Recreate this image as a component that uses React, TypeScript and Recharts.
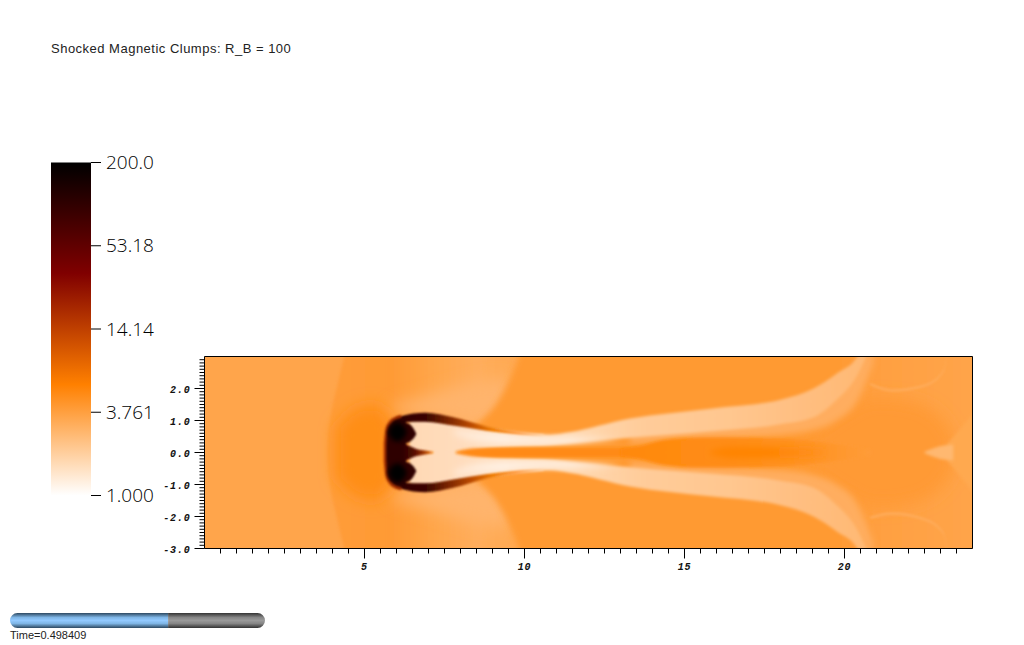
import { Area, Bar, BarChart, ComposedChart, CartesianGrid, ReferenceArea, XAxis, YAxis } from 'recharts';

const title = 'Shocked Magnetic Clumps: R_B = 100';
const timeLabel = 'Time=0.498409';

const xTicks = [0.5, 1, 1.5, 2, 2.5, 3, 3.5, 4, 4.5, 5, 5.5, 6, 6.5, 7, 7.5, 8, 8.5, 9, 9.5, 10, 10.5, 11, 11.5, 12, 12.5, 13, 13.5, 14, 14.5, 15, 15.5, 16, 16.5, 17, 17.5, 18, 18.5, 19, 19.5, 20, 20.5, 21, 21.5, 22, 22.5, 23, 23.5];
const yTicks = [-3, -2.9, -2.8, -2.7, -2.6, -2.5, -2.4, -2.3, -2.2, -2.1, -2, -1.9, -1.8, -1.7, -1.6, -1.5, -1.4, -1.3, -1.2, -1.1, -1, -0.9, -0.8, -0.7, -0.6, -0.5, -0.4, -0.3, -0.2, -0.1, 0, 0.1, 0.2, 0.3, 0.4, 0.5, 0.6, 0.7, 0.8, 0.9, 1, 1.1, 1.2, 1.3, 1.4, 1.5, 1.6, 1.7, 1.8, 1.9, 2, 2.1, 2.2, 2.3, 2.4, 2.5, 2.6, 2.7, 2.8, 2.9];
const xLabels = [5, 10, 15, 20];
const yLabels = [-3, -2, -1, 0, 1, 2];

const colorbarTicks = [1, 3.761, 14.14, 53.18, 200];
const colorbarLabels = ['1.000', '3.761', '14.14', '53.18', '200.0'];
const colorbarRange = [1, 200];

const timeElapsed = 0.62;
const timeRemaining = 0.38;

// each feature of the density field: x positions, upper edge, lower edge
const bowX = [3.84, 3.87, 3.93, 4.04, 4.16, 4.37, 4.55, 10.3];
const bowHi = [0.1, 0.6, 1.1, 1.65, 2.15, 3.0, 3.5, 3.5];
const bowLo = [-0.1, -0.6, -1.1, -1.65, -2.15, -3.0, -3.5, -3.5];

const preHeadX = [4.1, 4.6, 5.2, 5.6, 5.9];
const preHeadHi = [0.8, 1.3, 1.5, 1.4, 0.9];
const preHeadLo = [-0.8, -1.3, -1.5, -1.4, -0.9];

const haloUpX = [5.8, 7.0, 8.0, 9.0, 9.6];
const haloUpHi = [1.45, 1.8, 2.1, 2.3, 2.3];
const haloUpLo = [1.3, 1.1, 0.9, 0.8, 1.0];
const haloDownHi = [-1.3, -1.1, -0.9, -0.8, -1.0];
const haloDownLo = [-1.45, -1.8, -2.1, -2.3, -2.3];

const ambientX = [8.3, 8.7, 9.1, 9.45, 9.75, 9.87, 10, 24.4];
const ambientHi = [0.75, 1.05, 1.5, 2.1, 2.8, 3.1, 3.5, 3.5];
const ambientLo = [-0.75, -1.05, -1.5, -2.1, -2.8, -3.1, -3.5, -3.5];

const rearX = [19, 20, 21, 22, 23, 23.4];
const rearHi = [0.6, 1.3, 1.7, 1.6, 1.1, 0.5];
const rearLo = [-0.6, -1.3, -1.7, -1.6, -1.1, -0.5];

const wedgeX = [23.2, 23.5, 23.8, 24.3];
const wedgeHi = [0.25, 0.6, 0.95, 1.6];
const wedgeLo = [-0.25, -0.6, -0.95, -1.6];

const spotX = [22.5, 22.8, 23.1, 23.4];
const spotHi = [0.02, 0.14, 0.22, 0.24];
const spotLo = [-0.02, -0.14, -0.22, -0.24];

const arcUpX = [20.8, 21.5, 22.5, 23.1, 23.2];
const arcUpHi = [2.18, 1.98, 2.13, 2.6, 3.1];
const arcUpLo = [2.1, 1.9, 2.05, 2.52, 3.0];
const arcDownX = [20.8, 21.5, 22.5, 23.1, 23.2];
const arcDownHi = [-2.0, -1.87, -2.05, -2.5, -2.95];
const arcDownLo = [-2.08, -1.95, -2.13, -2.58, -3.05];

const glowX = [13.3, 15.8, 18, 19.03, 19.76, 20.4, 20.9];
const glowUpHi = [0.6, 0.8, 1.1, 1.35, 1.9, 2.6, 3.5];
const glowUpLo = [0.3, 0.45, 0.55, 0.7, 1.0, 1.6, 2.8];
const glowDownHi = [-0.3, -0.45, -0.55, -0.7, -1.0, -1.6, -2.8];
const glowDownLo = [-0.6, -0.8, -1.1, -1.35, -1.9, -2.6, -3.5];

const wingX = [6.4, 7.0, 7.8, 8.8, 9.87, 10.8, 11.4, 13.3, 15.8, 18, 19.03, 19.76, 20.4, 20.65, 20.9];
const wingUpHi = [1.0, 1.02, 0.9, 0.75, 0.6, 0.55, 0.63, 1.06, 1.37, 1.65, 2.0, 2.47, 3.0, 3.5, 3.5];
const wingUpLo = [-0.1, -0.1, -0.1, 0.12, 0.18, 0.22, 0.28, 0.46, 0.66, 0.88, 1.1, 1.65, 2.4, 2.9, 3.5];
const wingDownHi = [0.1, 0.1, 0.1, -0.12, -0.18, -0.22, -0.28, -0.46, -0.66, -0.88, -1.1, -1.65, -2.4, -2.9, -3.5];
const wingDownLo = [-1.0, -1.02, -0.9, -0.75, -0.6, -0.55, -0.63, -1.06, -1.37, -1.65, -2.0, -2.47, -3.0, -3.5, -3.5];

const streakX = [7.8, 8.3, 9, 10, 11, 12, 13];
const streakUpHi = [0.74, 0.68, 0.62, 0.5, 0.47, 0.5, 0.42];
const streakUpLo = [0.56, 0.38, 0.3, 0.28, 0.27, 0.33, 0.42];
const streakDownHi = [-0.56, -0.38, -0.3, -0.28, -0.27, -0.33, -0.42];
const streakDownLo = [-0.74, -0.68, -0.62, -0.5, -0.47, -0.5, -0.42];

const coreX = [7.85, 8.5, 10, 12, 13, 13.8];
const coreHi = [0.03, 0.13, 0.15, 0.15, 0.15, 0.12];
const coreLo = [-0.03, -0.13, -0.15, -0.15, -0.15, -0.12];

const lensX = [13, 13.6, 14.3, 15.5, 17, 18.3, 19.5, 20.8];
const lensHi = [0.12, 0.2, 0.38, 0.47, 0.46, 0.42, 0.3, 0.08];
const lensLo = [-0.12, -0.2, -0.38, -0.47, -0.46, -0.42, -0.3, -0.08];

const innerX = [15.8, 16.5, 17.3, 18.5, 19.4];
const innerHi = [0.05, 0.17, 0.18, 0.16, 0.05];
const innerLo = [-0.05, -0.17, -0.18, -0.16, -0.05];

const armX = [6.0, 6.53, 6.9, 7.78, 8.8, 9.87, 10.6];
const armUpHi = [1.08, 1.22, 1.24, 1.1, 0.82, 0.64, 0.56];
const armUpLo = [0.9, 0.96, 0.96, 0.84, 0.68, 0.56, 0.52];
const armDownHi = [-0.9, -0.96, -0.96, -0.84, -0.68, -0.56, -0.52];
const armDownLo = [-1.08, -1.22, -1.24, -1.1, -0.82, -0.64, -0.56];

const rimX = [5.6, 5.65, 5.75, 6.0, 6.15];
const rimHi = [0.3, 0.72, 0.95, 1.14, 1.18];
const rimLo = [-0.3, -0.72, -0.95, -1.14, -1.18];

const bodyX = [5.68, 5.72, 5.82, 6.06, 6.3];
const bodyHi = [0.25, 0.7, 0.9, 1.06, 1.1];
const bodyLo = [-0.25, -0.7, -0.9, -1.06, -1.1];

const bumpX = [6.1, 6.3, 6.45, 6.55, 6.62];
const bumpUpHi = [0.9, 0.92, 0.85, 0.72, 0.58];
const bumpUpLo = [0.33, 0.3, 0.36, 0.46, 0.58];
const bumpDownHi = [-0.33, -0.3, -0.36, -0.46, -0.58];
const bumpDownLo = [-0.9, -0.92, -0.85, -0.72, -0.58];

const spikeX = [6.2, 6.4, 6.6, 6.85, 7.15];
const spikeHi = [0.28, 0.2, 0.12, 0.07, 0.02];
const spikeLo = [-0.28, -0.2, -0.12, -0.07, -0.02];

const blobX = [5.74, 5.88, 6.02, 6.18, 6.32];
const blobUpHi = [0.66, 0.88, 0.94, 0.88, 0.66];
const blobUpLo = [0.62, 0.4, 0.34, 0.4, 0.62];
const blobDownHi = [-0.62, -0.4, -0.34, -0.4, -0.62];
const blobDownLo = [-0.66, -0.88, -0.94, -0.88, -0.66];

const band = (xs: number[], hi: number[], lo: number[]) => xs.map((x, i) => ({ x, range: [lo[i], hi[i]] }));

const layers = [
  { id: 'bow', data: band(bowX, bowHi, bowLo), fill: 'url(#bowFill)', blur: 'b2' },
  { id: 'preHead', data: band(preHeadX, preHeadHi, preHeadLo), fill: '#ff8e16', blur: 'b8' },
  { id: 'haloUp', data: band(haloUpX, haloUpHi, haloUpLo), fill: '#ffb46c', blur: 'b8' },
  { id: 'haloDown', data: band(haloUpX, haloDownHi, haloDownLo), fill: '#ffb46c', blur: 'b8' },
  { id: 'ambient', data: band(ambientX, ambientHi, ambientLo), fill: 'url(#ambientFill)', blur: 'b3' },
  { id: 'rear', data: band(rearX, rearHi, rearLo), fill: '#ff9a34', blur: 'b8' },
  { id: 'wedge', data: band(wedgeX, wedgeHi, wedgeLo), fill: '#ffa950', blur: 'b2' },
  { id: 'spot', data: band(spotX, spotHi, spotLo), fill: '#ffb86f', blur: 'b2' },
  { id: 'arcUp', data: band(arcUpX, arcUpHi, arcUpLo), fill: '#ffab58', blur: 'b1' },
  { id: 'arcDown', data: band(arcDownX, arcDownHi, arcDownLo), fill: '#ffab58', blur: 'b1' },
  { id: 'glowUp', data: band(glowX, glowUpHi, glowUpLo), fill: '#ffad5e', blur: 'b3' },
  { id: 'glowDown', data: band(glowX, glowDownHi, glowDownLo), fill: '#ffad5e', blur: 'b3' },
  { id: 'wingUp', data: band(wingX, wingUpHi, wingUpLo), fill: 'url(#wingFill)', blur: 'b2' },
  { id: 'wingDown', data: band(wingX, wingDownHi, wingDownLo), fill: 'url(#wingFill)', blur: 'b2' },
  { id: 'streakUp', data: band(streakX, streakUpHi, streakUpLo), fill: 'url(#streakFill)', blur: 'b3' },
  { id: 'streakDown', data: band(streakX, streakDownHi, streakDownLo), fill: 'url(#streakFill)', blur: 'b3' },
  { id: 'core', data: band(coreX, coreHi, coreLo), fill: '#ff8a12', blur: 'b2' },
  { id: 'lens', data: band(lensX, lensHi, lensLo), fill: 'url(#lensFill)', blur: 'b2' },
  { id: 'inner', data: band(innerX, innerHi, innerLo), fill: 'url(#innerFill)', blur: 'b3' },
  { id: 'armUp', data: band(armX, armUpHi, armUpLo), fill: 'url(#armFill)', blur: 'b1' },
  { id: 'armDown', data: band(armX, armDownHi, armDownLo), fill: 'url(#armFill)', blur: 'b1' },
  { id: 'rim', data: band(rimX, rimHi, rimLo), fill: '#a83200', blur: 'b1' },
  { id: 'body', data: band(bodyX, bodyHi, bodyLo), fill: '#2e0200', blur: 'b1' },
  { id: 'bumpUp', data: band(bumpX, bumpUpHi, bumpUpLo), fill: '#2e0200', blur: 'b1' },
  { id: 'bumpDown', data: band(bumpX, bumpDownHi, bumpDownLo), fill: '#2e0200', blur: 'b1' },
  { id: 'spike', data: band(spikeX, spikeHi, spikeLo), fill: 'url(#spikeFill)', blur: 'b1' },
  { id: 'blobUp', data: band(blobX, blobUpHi, blobUpLo), fill: '#000000', blur: 'b25' },
  { id: 'blobDown', data: band(blobX, blobDownHi, blobDownLo), fill: '#000000', blur: 'b25' },
];

const hFill = (id: string, stops: [number, string][]) => (
  <linearGradient id={id} x1="0" y1="0" x2="1" y2="0">
    {stops.map(([o, c]) => (
      <stop key={o} offset={o} stopColor={c} />
    ))}
  </linearGradient>
);

const blurFilter = (id: string, s: number) => (
  <filter id={id} filterUnits="userSpaceOnUse" x="0" y="0" width="1024" height="645">
    <feGaussianBlur stdDeviation={s} />
  </filter>
);

const tickFont = { fontFamily: '"Liberation Mono", monospace', fontWeight: 700, fontStyle: 'italic', fontSize: 10, letterSpacing: 0.8, fill: '#111' };

function XTick({ x, y, payload }: any) {
  const major = xLabels.includes(payload.value);
  return (
    <g>
      <line x1={x} x2={x} y1={y} y2={y + (major ? 10 : 5)} stroke="#000" />
      {major && (
        <text x={x} y={y + 21.5} textAnchor="middle" {...tickFont}>
          {payload.value}
        </text>
      )}
    </g>
  );
}

function YTick({ x, y, payload }: any) {
  const major = Number.isInteger(payload.value);
  return (
    <g>
      <line x1={x - (major ? 10 : 5)} x2={x} y1={y} y2={y} stroke="#000" />
      {yLabels.includes(payload.value) && (
        <text x={x - 14} y={y + 4} textAnchor="end" {...tickFont}>
          {payload.value.toFixed(1)}
        </text>
      )}
    </g>
  );
}

export default function App() {
  return (
    <div style={{ position: 'absolute', left: 0, top: 0, width: 1024, height: 645, background: '#fff', overflow: 'hidden' }}>
      <div style={{ position: 'absolute', left: 51, top: 41, fontFamily: '"Liberation Sans", sans-serif', fontSize: 13, letterSpacing: 0.49, lineHeight: '15px', color: '#222', whiteSpace: 'nowrap' }}>
        {title}
      </div>

      <div style={{ position: 'absolute', left: 0, top: 0 }}>
        <ComposedChart width={1024} height={645} margin={{ top: 356.5, left: 164.5, right: 51.5, bottom: 66.5 }}>
          <defs>
            {hFill('bowFill', [[0, '#ff9c3a'], [0.3, '#ff9a34'], [0.5, '#ffa549'], [0.72, '#ffad5c'], [0.95, '#ffa950'], [1, '#ffa950']])}
            {hFill('ambientFill', [[0, '#ff9a33'], [0.72, '#ff9a33'], [0.8, '#ffa042'], [1, '#ffa54a']])}
            {hFill('wingFill', [[0, '#ffd8b4'], [0.1, '#ffdcbc'], [0.2, '#ffe0c2'], [0.32, '#ffdcb8'], [0.5, '#ffcc9a'], [0.7, '#ffc68e'], [0.85, '#ffbe80'], [1, '#ffb872']])}
            {hFill('streakFill', [[0, '#ffe6d0'], [0.3, '#fff1e4'], [0.7, '#ffefe0'], [1, '#ffd8b0']])}
            {hFill('lensFill', [[0, '#ff8808'], [0.15, '#ff8a10'], [0.45, '#ff8c14'], [0.75, '#ff9222'], [1, '#ff9c38']])}
            {hFill('innerFill', [[0, '#ff8400'], [0.5, '#ff8400'], [1, '#ff9020']])}
            {hFill('armFill', [[0, '#300000'], [0.2, '#3a0500'], [0.35, '#7a2500'], [0.5, '#b84800'], [0.65, '#ee7a00'], [0.82, '#ff9a40'], [1, '#ffdcb8']])}
            {hFill('spikeFill', [[0, '#2e0200'], [0.4, '#5a0c00'], [0.75, '#b04000'], [1, '#ff8a10']])}
            {blurFilter('b1', 1.3)}
            {blurFilter('b2', 1.8)}
            {blurFilter('b25', 2.5)}
            {blurFilter('b3', 3)}
            {blurFilter('b8', 8)}
          </defs>
          <CartesianGrid fill="#ffa54b" horizontal={false} vertical={false} />
          <XAxis
            dataKey="x"
            type="number"
            domain={[0, 24]}
            ticks={xTicks}
            interval={0}
            height={30}
            allowDataOverflow
            axisLine={false}
            tickLine={false}
            tickSize={0}
            tickMargin={0}
            tick={XTick}
          />
          <YAxis type="number" domain={[-3, 3]} ticks={yTicks} interval={0} width={40} allowDataOverflow axisLine={false} tickLine={false} tickSize={0} tickMargin={0} tick={YTick} />
          {layers.map((l) => (
            <Area
              key={l.id}
              data={l.data}
              dataKey="range"
              type="monotone"
              fill={l.fill}
              fillOpacity={1}
              stroke="none"
              filter={`url(#${l.blur})`}
              dot={false}
              activeDot={false}
              isAnimationActive={false}
            />
          ))}
          <ReferenceArea x1={0} x2={24} y1={-3} y2={3} fill="none" stroke="#000" strokeWidth={1} ifOverflow="visible" />
        </ComposedChart>
      </div>

      <div style={{ position: 'absolute', left: 0, top: 140 }}>
        <BarChart width={170} height={380} data={[{ name: 'scale', range: colorbarRange }]} margin={{ top: 22.5, left: 51, right: 14, bottom: 24.5 }} barCategoryGap={0}>
          <defs>
            <linearGradient id="heat" x1="0" y1="0" x2="0" y2="1">
              <stop offset={0} stopColor="#000000" />
              <stop offset={0.3333} stopColor="#800000" />
              <stop offset={0.6667} stopColor="#ff8000" />
              <stop offset={1} stopColor="#ffffff" />
            </linearGradient>
          </defs>
          <XAxis dataKey="name" hide />
          <YAxis
            orientation="right"
            scale="log"
            type="number"
            domain={[1, 200]}
            ticks={colorbarTicks}
            interval={0}
            width={65}
            axisLine={false}
            tickSize={10}
            tickMargin={5}
            tickLine={{ stroke: '#000', strokeWidth: 1 }}
            tickFormatter={(v: number) => colorbarLabels[colorbarTicks.indexOf(v)]}
            tick={{ fontFamily: '"Open Sans", sans-serif', fontWeight: 300, fontSize: 19, fill: '#000' }}
          />
          <Bar dataKey="range" fill="url(#heat)" isAnimationActive={false} />
        </BarChart>
      </div>

      <div style={{ position: 'absolute', left: 0, top: 605 }}>
        <BarChart width={275} height={30} layout="vertical" data={[{ name: 'time', elapsed: timeElapsed, remaining: timeRemaining }]} margin={{ top: 8, left: 10, right: 10, bottom: 7 }} barCategoryGap={0}>
          <defs>
            <linearGradient id="timeOn" x1="0" y1="0" x2="0" y2="1">
              <stop offset={0} stopColor="#2c4860" />
              <stop offset={0.3} stopColor="#7fb6e6" />
              <stop offset={0.5} stopColor="#93caff" />
              <stop offset={0.7} stopColor="#7fb6e6" />
              <stop offset={1} stopColor="#2c4860" />
            </linearGradient>
            <linearGradient id="timeOff" x1="0" y1="0" x2="0" y2="1">
              <stop offset={0} stopColor="#333333" />
              <stop offset={0.3} stopColor="#868686" />
              <stop offset={0.5} stopColor="#9a9a9a" />
              <stop offset={0.7} stopColor="#868686" />
              <stop offset={1} stopColor="#333333" />
            </linearGradient>
          </defs>
          <XAxis type="number" domain={[0, 1]} hide />
          <YAxis type="category" dataKey="name" hide />
          <Bar dataKey="elapsed" stackId="t" fill="url(#timeOn)" radius={[7.5, 0, 0, 7.5]} isAnimationActive={false} />
          <Bar dataKey="remaining" stackId="t" fill="url(#timeOff)" radius={[0, 7.5, 7.5, 0]} isAnimationActive={false} />
        </BarChart>
      </div>

      <div style={{ position: 'absolute', left: 10, top: 629, fontFamily: '"Liberation Sans", sans-serif', fontSize: 11, lineHeight: '13px', color: '#222', whiteSpace: 'nowrap' }}>
        {timeLabel}
      </div>
    </div>
  );
}
